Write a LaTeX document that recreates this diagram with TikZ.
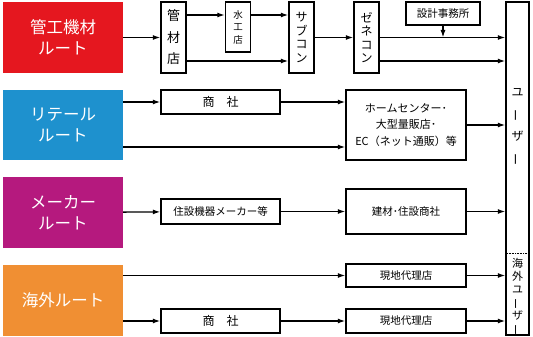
\documentclass[tikz,border=0pt]{standalone}
\usepackage{fontspec}
\usepackage{graphicx}
\setmainfont{Noto Sans CJK JP}
\usetikzlibrary{arrows.meta}
\newcommand\tatebo{\rotatebox[origin=c]{90}{ー}}
\newcommand\fsz[2]{\fontsize{#1}{#2}\selectfont}
\tikzset{
  route/.style={fill=#1, text=white, minimum width=120pt, minimum height=71pt,
    inner sep=0pt, align=center, font=\fsz{16.5}{21}},
  chbox/.style={draw, line width=1.4pt, fill=white, inner sep=0pt, align=center},
  arr/.style={->, line width=1.3pt}
}
\begin{document}
\begin{tikzpicture}[x=1pt, y=-1pt, >={Latex[length=7.5pt,width=5pt]}]
  \definecolor{kanred}{RGB}{229,23,31}
  \definecolor{retblue}{RGB}{30,145,206}
  \definecolor{makmag}{RGB}{181,25,126}
  \definecolor{kaiorange}{RGB}{240,143,51}
  \useasboundingbox (0,0) rectangle (533,337);
  % route boxes
  \node[route=kanred] (kankou) at (63,37.5) {管工機材\\ルート};
  \node[route=retblue, minimum height=70pt] (retail) at (63,125) {リテール\\ルート};
  \node[route=makmag] (maker) at (63,212.5) {メーカー\\ルート};
  \node[route=kaiorange] (kaigai) at (63,300) {海外ルート};
  % channel boxes
  \node[chbox, minimum width=25pt, minimum height=71pt, font=\fsz{13}{21.5}] (kanzai) at (173.5,37.5) {管\\材\\店};
  \node[chbox, minimum width=25pt, minimum height=50pt, font=\fsz{9.5}{12.5}] (suiko) at (238,27) {水\\工\\店};
  \node[chbox, minimum width=25pt, minimum height=71pt, font=\fsz{12}{13.5}] (subcon) at (301.5,37.5) {サ\\ブ\\コ\\ン};
  \node[chbox, minimum width=25pt, minimum height=71pt, font=\fsz{12}{13.5}] (genecon) at (366.5,37.5) {ゼ\\ネ\\コ\\ン};
  \node[chbox, minimum width=74pt, minimum height=23pt, font=\fsz{10.5}{12}] (sekkei) at (443,13.5) {設計事務所};
  \node[chbox, minimum width=119pt, minimum height=24pt, font=\fsz{12}{14}] (shosha) at (220.5,102) {商　社};
  \node[chbox, minimum width=120pt, minimum height=70pt, font=\fsz{11}{16.5}] (home) at (406,125) {ホームセンター･\\大型量販店･\\EC（ネット通販）等};
  \node[chbox, minimum width=119pt, minimum height=25pt, font=\fsz{10.5}{12}] (jusetsu) at (220.5,211.5) {住設機器メーカー等};
  \node[chbox, minimum width=120pt, minimum height=45pt, font=\fsz{10.5}{12}] (kenzai) at (406,211.5) {建材･住設商社};
  \node[chbox, minimum width=120pt, minimum height=23pt, font=\fsz{10.5}{12}] (genchiA) at (406,275.5) {現地代理店};
  \node[chbox, minimum width=119pt, minimum height=24pt, font=\fsz{12}{14}] (shoshaB) at (220.5,321) {商　社};
  \node[chbox, minimum width=120pt, minimum height=24pt, font=\fsz{10.5}{12}] (genchiB) at (406,321) {現地代理店};
  % user box
  \node[chbox, minimum width=23pt, minimum height=333pt] (user) at (517.5,168.5) {};
  \node[font=\fsz{12}{22}, align=center, inner sep=0pt] (usertxt) at (517.5,127) {ユ\\\tatebo\\ザ\\\tatebo};
  \node[font=\fsz{11}{13}, align=center, inner sep=0pt] (kaiuser) at (517.5,297) {海\\外\\ユ\\\tatebo\\ザ\\\tatebo};
  \coordinate (yA) at (0,15);
  \coordinate (yB) at (0,61);
  \coordinate (yC) at (0,147);
  \coordinate (yD) at (0,253);
  \draw[densely dotted, line width=0.6pt] (user.west |- yD) -- (user.east |- yD);
  % connectors
  \draw[arr] (kankou) -- (kanzai);
  \draw[arr] (kanzai.east |- yA) -- (suiko.west |- yA);
  \draw[arr] (suiko.east |- yA) -- (subcon.west |- yA);
  \draw[arr] (kanzai.east |- yB) -- (subcon.west |- yB);
  \draw[arr] (subcon) -- (genecon);
  \draw[arr] (genecon) -- (user.west |- genecon);
  \draw[arr] (genecon.east |- yB) -- (user.west |- yB);
  \draw[arr] (sekkei) -- (sekkei |- genecon);
  \draw[arr] (retail.east |- shosha) -- (shosha);
  \draw[arr] (shosha) -- (home.west |- shosha);
  \draw[arr] (retail.east |- yC) -- (home.west |- yC);
  \draw[arr] (home) -- (user.west |- home);
  \draw[arr] (maker) -- (jusetsu);
  \draw[arr] (jusetsu) -- (kenzai);
  \draw[arr] (kenzai) -- (user.west |- kenzai);
  \draw[arr] (kaigai.east |- genchiA) -- (genchiA);
  \draw[arr] (genchiA) -- (user.west |- genchiA);
  \draw[arr] (kaigai.east |- shoshaB) -- (shoshaB);
  \draw[arr] (shoshaB) -- (genchiB);
  \draw[arr] (genchiB) -- (user.west |- genchiB);
\end{tikzpicture}
\end{document}
